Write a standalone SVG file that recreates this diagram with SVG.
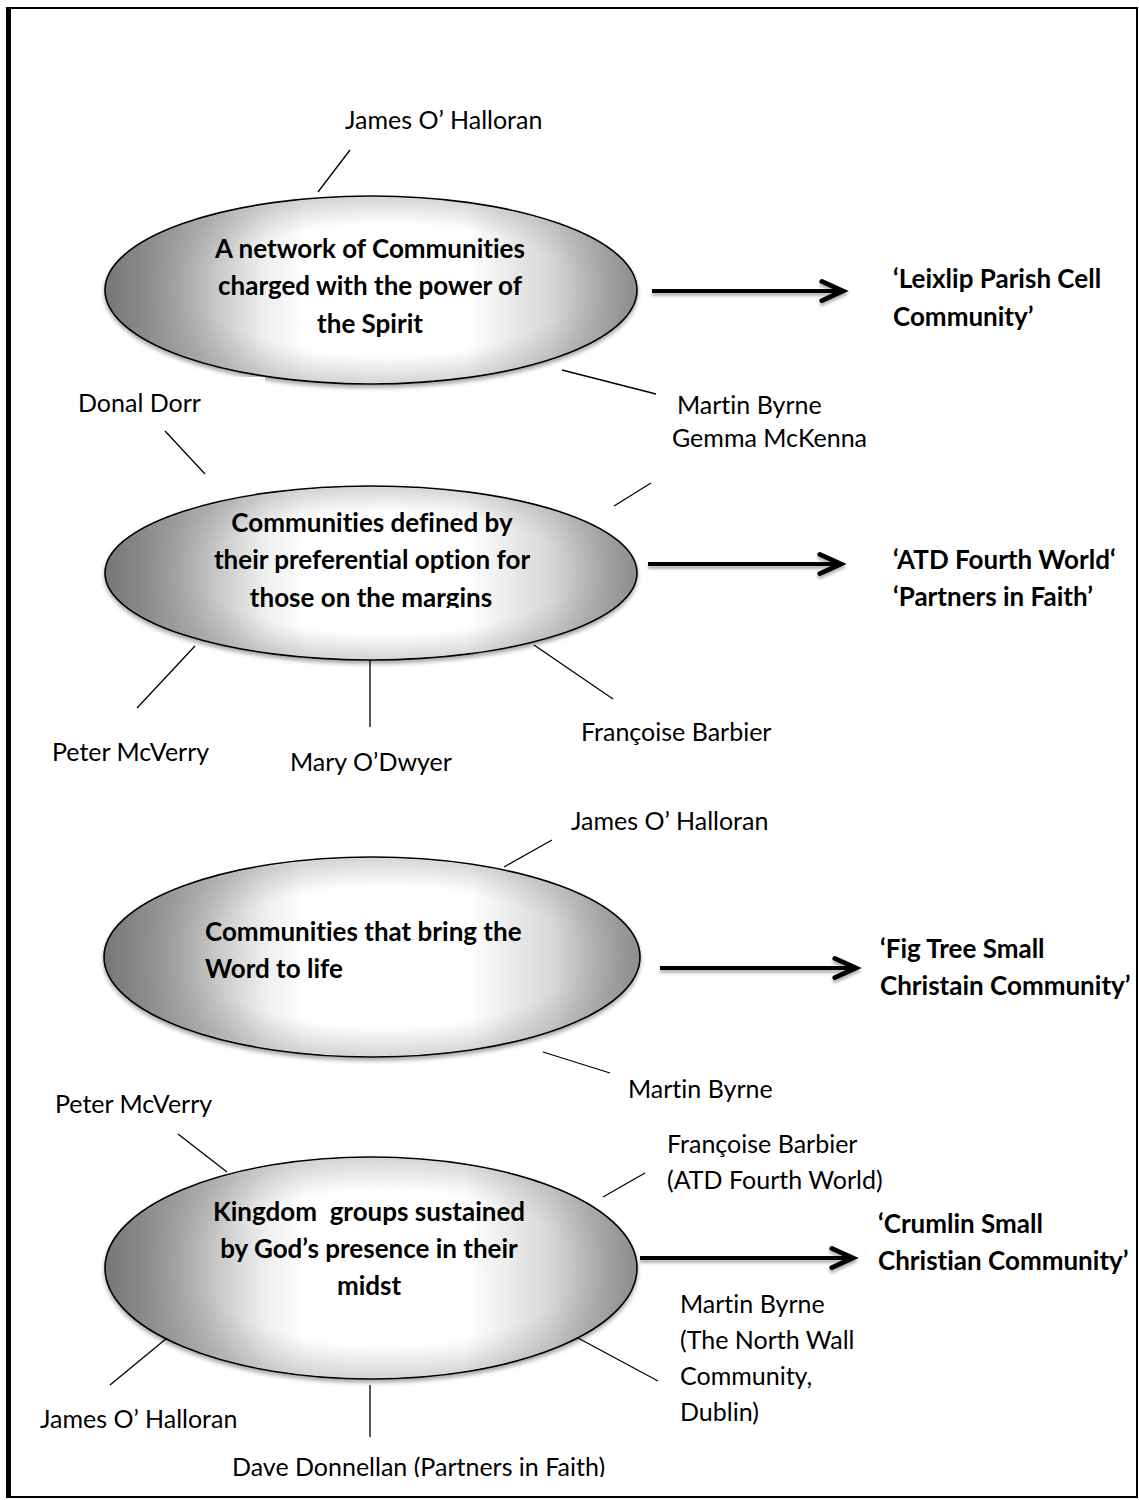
<svg xmlns="http://www.w3.org/2000/svg" width="1139" height="1500" viewBox="0 0 1139 1500">
<defs>
  <linearGradient id="g" x1="0" y1="0" x2="1" y2="0">
    <stop offset="0" stop-color="#6c6c6c"/>
    <stop offset="0.14" stop-color="#a9a9a9"/>
    <stop offset="0.3" stop-color="#eeeeee"/>
    <stop offset="0.38" stop-color="#ffffff"/>
    <stop offset="0.68" stop-color="#ffffff"/>
    <stop offset="0.84" stop-color="#d6d6d6"/>
    <stop offset="1" stop-color="#8e8e8e"/>
  </linearGradient>
  <radialGradient id="rg" cx="0.53" cy="0.5" r="0.5">
    <stop offset="0.7" stop-color="#888" stop-opacity="0"/>
    <stop offset="1" stop-color="#888" stop-opacity="0.35"/>
  </radialGradient>
  <filter id="sh" x="-10%" y="-10%" width="120%" height="130%">
    <feDropShadow dx="0" dy="3" stdDeviation="2" flood-color="#000" flood-opacity="0.35"/>
  </filter>
  <filter id="sha" filterUnits="userSpaceOnUse" x="0" y="0" width="1139" height="1500">
    <feDropShadow dx="0" dy="3" stdDeviation="1.5" flood-color="#000" flood-opacity="0.3"/>
  </filter>
  <clipPath id="c2"><rect x="100" y="480" width="560" height="128"/></clipPath>
  <clipPath id="cb"><rect x="0" y="1440" width="1139" height="37"/></clipPath>
  <marker id="ah" markerWidth="10" markerHeight="10" refX="6.3" refY="5" orient="auto" markerUnits="strokeWidth">
    <polyline points="1,2.6 6.3,5 1,7.4" fill="none" stroke="#000" stroke-width="1.2" stroke-linejoin="miter" stroke-linecap="round"/>
  </marker>
</defs>
<style>
  .el { fill: url(#g); stroke: #000; stroke-width: 1.6; filter: url(#sh); }
  .ov { fill: url(#rg); stroke: none; }
  .t { font-family: Lato, "Liberation Sans", sans-serif; font-size: 25px; fill: #000; font-variant-ligatures: none; }
  .b { font-family: Lato, "Liberation Sans", sans-serif; font-size: 26px; font-weight: bold; fill: #000; font-variant-ligatures: none; }
  .c { text-anchor: middle; }
  .ln { stroke: #000; stroke-width: 1.3; fill: none; }
  .ar { stroke: #000; stroke-width: 4; fill: none; marker-end: url(#ah); }
</style>
<rect width="1139" height="1500" fill="#fff"/>
<rect x="8" y="8" width="1129" height="1489" fill="none" stroke="#000" stroke-width="2"/>
<line x1="8.5" y1="7" x2="8.5" y2="1498" stroke="#000" stroke-width="5"/>

<g id="node1">
  <ellipse class="el" cx="371" cy="290" rx="266" ry="94"/>
  <ellipse class="ov" cx="371" cy="290" rx="265" ry="93"/>
  <rect x="150" y="377" width="115" height="14" fill="#fff"/>
  <text class="b c" x="370" y="258">A network of Communities</text>
  <text class="b c" x="370" y="295">charged with the power of</text>
  <text class="b c" x="370" y="333">the Spirit</text>
</g>
<g id="node2">
  <ellipse class="el" cx="371" cy="573" rx="266" ry="87"/>
  <ellipse class="ov" cx="371" cy="573" rx="265" ry="86"/>
  <g clip-path="url(#c2)">
    <text class="b c" x="372" y="532">Communities defined by</text>
    <text class="b c" x="372" y="569">their preferential option for</text>
    <text class="b c" x="371" y="607">those on the margins</text>
  </g>
</g>
<g id="node3">
  <ellipse class="el" cx="372" cy="957" rx="268" ry="100"/>
  <ellipse class="ov" cx="372" cy="957" rx="267" ry="99"/>
  <text class="b" x="205" y="941">Communities that bring the</text>
  <text class="b" x="205" y="978">Word to life</text>
</g>
<g id="node4">
  <ellipse class="el" cx="371" cy="1268" rx="266" ry="111"/>
  <ellipse class="ov" cx="371" cy="1268" rx="265" ry="110"/>
  <text class="b c" x="369" y="1221" xml:space="preserve">Kingdom  groups sustained</text>
  <text class="b c" x="369" y="1258">by God’s presence in their</text>
  <text class="b c" x="369" y="1295">midst</text>
</g>

<g id="targets">
  <text class="b" x="893" y="288">‘Leixlip Parish Cell</text>
  <text class="b" x="893" y="326">Community’</text>
  <text class="b" x="893" y="569">‘ATD Fourth World‘</text>
  <text class="b" x="893" y="606">‘Partners in Faith’</text>
  <text class="b" x="880" y="958">‘Fig Tree Small</text>
  <text class="b" x="880" y="995">Christain Community’</text>
  <text class="b" x="878" y="1233">‘Crumlin Small</text>
  <text class="b" x="878" y="1270">Christian Community’</text>
</g>

<g id="labels">
  <text class="t" x="345" y="129">James O’ Halloran</text>
  <text class="t" x="677" y="414">Martin Byrne</text>
  <text class="t" x="78" y="412">Donal Dorr</text>
  <text class="t" x="672" y="447">Gemma McKenna</text>
  <text class="t" x="52" y="761">Peter McVerry</text>
  <text class="t" x="290" y="771">Mary O’Dwyer</text>
  <text class="t" x="581" y="741">Françoise Barbier</text>
  <text class="t" x="571" y="830">James O’ Halloran</text>
  <text class="t" x="628" y="1098">Martin Byrne</text>
  <text class="t" x="55" y="1113">Peter McVerry</text>
  <text class="t" x="667" y="1153">Françoise Barbier</text>
  <text class="t" x="667" y="1189">(ATD Fourth World)</text>
  <text class="t" x="680" y="1313">Martin Byrne</text>
  <text class="t" x="680" y="1349">(The North Wall</text>
  <text class="t" x="680" y="1385">Community,</text>
  <text class="t" x="680" y="1421">Dublin)</text>
  <text class="t" x="40" y="1428">James O’ Halloran</text>
  <g clip-path="url(#cb)">
    <text class="t" x="232" y="1476">Dave Donnellan (Partners in Faith)</text>
  </g>
</g>

<g id="connectors">
  <line class="ln" x1="318" y1="192" x2="350" y2="150"/>
  <line class="ln" x1="562" y1="370" x2="656" y2="394"/>
  <line class="ln" x1="165" y1="431" x2="205" y2="474"/>
  <line class="ln" x1="614" y1="506" x2="651" y2="483"/>
  <line class="ln" x1="137" y1="708" x2="195" y2="646"/>
  <line class="ln" x1="370" y1="660" x2="370" y2="727"/>
  <line class="ln" x1="534" y1="645" x2="613" y2="699"/>
  <line class="ln" x1="504" y1="867" x2="552" y2="840"/>
  <line class="ln" x1="543" y1="1052" x2="610" y2="1073"/>
  <line class="ln" x1="178" y1="1134" x2="227" y2="1172"/>
  <line class="ln" x1="603" y1="1197" x2="645" y2="1173"/>
  <line class="ln" x1="578" y1="1338" x2="658" y2="1381"/>
  <line class="ln" x1="110" y1="1385" x2="167" y2="1338"/>
  <line class="ln" x1="370" y1="1385" x2="370" y2="1437"/>
  <g filter="url(#sha)">
    <line class="ar" x1="652" y1="291" x2="843" y2="291"/>
    <line class="ar" x1="648" y1="564" x2="841" y2="564"/>
    <line class="ar" x1="660" y1="968" x2="856" y2="968"/>
    <line class="ar" x1="640" y1="1258" x2="853" y2="1258"/>
  </g>
</g>
</svg>
